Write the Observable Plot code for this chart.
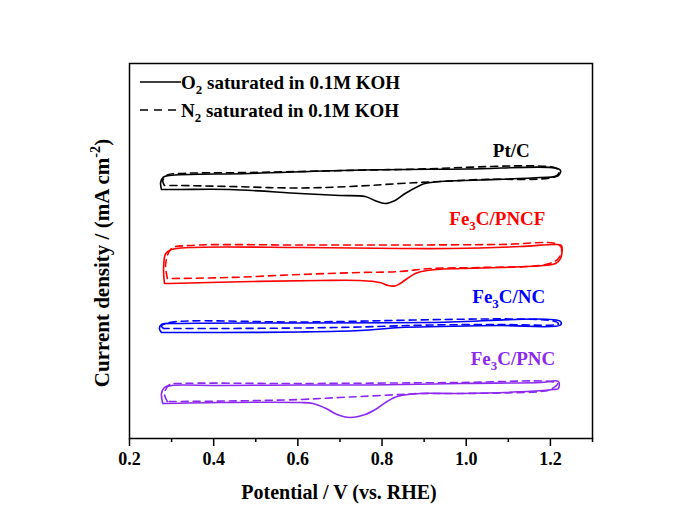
<!DOCTYPE html>
<html>
<head>
<meta charset="utf-8">
<script src="https://cdn.jsdelivr.net/npm/d3@7"></script>
<script src="https://cdn.jsdelivr.net/npm/@observablehq/plot@0.6"></script>
<style>
  html, body { margin: 0; padding: 0; background: white; }
  #wrap { position: relative; width: 673px; height: 512px; }
  #legend { position: absolute; left: 0; top: 0; pointer-events: none; }
</style>
</head>
<body>
<div id="wrap"></div>
<script>
// ---------- data (potential V vs. RHE, current density in offset mA cm^-2) ----------
const majorTicks = [0.2, 0.4, 0.6, 0.8, 1.0, 1.2];
const minorTicks = [0.3, 0.5, 0.7, 0.9, 1.1, 1.3];
const samples = ["Pt/C", "Fe_{3}C/PNCF", "Fe_{3}C/NC", "Fe_{3}C/PNC"];
const sampleColors = ["#000000", "#ff0000", "#0000ff", "#8c28f0"];
const labelPotential = [1.107, 1.074, 1.101, 1.111];
const labelCurrent = [11.52, 8.8, 5.68, 3.2];
const legendLabels = ["O_{2} saturated in 0.1M KOH", "N_{2} saturated in 0.1M KOH"];
const xTitle = "Potential / V (vs. RHE)";
const yTitle = "Current density / (mA cm^{-2})";

const ptcO2 = [[0.276,9.96],[0.274,10.24],[0.281,10.46],[0.295,10.52],[0.486,10.6],[0.748,10.74],[1.0,10.78],[1.212,10.82],[1.224,10.72],[1.219,10.52],[1.176,10.44],[1.033,10.34],[0.938,10.28],[0.902,10.2],[0.89,10.12],[0.855,9.8],[0.831,9.52],[0.807,9.4],[0.783,9.52],[0.76,9.68],[0.7,9.72],[0.605,9.8],[0.438,9.96],[0.319,9.96],[0.276,9.96]];
const ptcN2 = [[0.283,10.12],[0.279,10.32],[0.29,10.54],[0.319,10.6],[0.486,10.64],[0.843,10.76],[1.212,10.82],[1.221,10.68],[1.212,10.48],[1.033,10.36],[0.914,10.26],[0.843,10.2],[0.748,10.1],[0.605,10.02],[0.438,10.08],[0.319,10.12],[0.283,10.12]];

const pncfO2 = [[0.283,6.2],[0.281,6.8],[0.286,7.4],[0.3,7.56],[0.343,7.64],[0.605,7.64],[0.843,7.6],[0.962,7.6],[1.129,7.68],[1.212,7.76],[1.226,7.72],[1.224,7.2],[1.212,7.0],[1.183,6.92],[1.081,6.84],[0.986,6.8],[0.907,6.72],[0.879,6.6],[0.86,6.4],[0.843,6.2],[0.831,6.1],[0.815,6.12],[0.795,6.24],[0.748,6.32],[0.652,6.32],[0.493,6.28],[0.295,6.2],[0.283,6.2]];
const pncfN2 = [[0.29,6.4],[0.286,7.0],[0.3,7.6],[0.343,7.72],[0.605,7.74],[0.843,7.74],[1.081,7.76],[1.212,7.8],[1.226,7.64],[1.219,7.2],[1.188,6.96],[1.033,6.84],[0.914,6.8],[0.843,6.68],[0.748,6.64],[0.605,6.56],[0.438,6.44],[0.295,6.4],[0.29,6.4]];

const ncO2 = [[0.276,4.24],[0.271,4.4],[0.276,4.56],[0.319,4.6],[0.605,4.62],[0.914,4.64],[1.224,4.68],[1.224,4.54],[1.081,4.52],[0.938,4.48],[0.843,4.44],[0.748,4.32],[0.605,4.26],[0.414,4.24],[0.276,4.24]];
const ncN2 = [[0.281,4.4],[0.276,4.5],[0.295,4.64],[0.605,4.66],[1.212,4.68],[1.219,4.58],[1.081,4.56],[0.914,4.54],[0.748,4.46],[0.605,4.42],[0.414,4.4],[0.281,4.4]];

const pncO2 = [[0.279,1.4],[0.276,1.8],[0.283,2.04],[0.3,2.12],[0.414,2.12],[0.605,2.14],[0.771,2.14],[0.986,2.2],[1.176,2.24],[1.219,2.28],[1.219,2.0],[1.207,1.96],[1.183,1.92],[0.986,1.8],[0.89,1.8],[0.836,1.68],[0.812,1.48],[0.788,1.2],[0.76,0.96],[0.724,0.84],[0.693,0.96],[0.667,1.2],[0.636,1.4],[0.605,1.44],[0.414,1.44],[0.279,1.4]];
const pncN2 = [[0.29,1.48],[0.283,1.8],[0.295,2.16],[0.319,2.2],[0.605,2.2],[0.986,2.24],[1.2,2.28],[1.217,2.2],[1.2,1.96],[1.176,1.88],[0.986,1.8],[0.89,1.8],[0.843,1.76],[0.748,1.68],[0.7,1.64],[0.605,1.56],[0.438,1.5],[0.29,1.48]];

const o2Curves = [ptcO2, pncfO2, ncO2, pncO2];
const n2Curves = [ptcN2, pncfN2, ncN2, pncN2];

// ---------- chart ----------
const FONT = "'Liberation Serif', 'Times New Roman', serif";
const curveMarks = [];
samples.forEach((s, i) => {
  curveMarks.push(Plot.line(o2Curves[i], {x: d => d[0], y: d => d[1], stroke: sampleColors[i], strokeWidth: 1.6, curve: "catmull-rom"}));
  curveMarks.push(Plot.line(n2Curves[i], {x: d => d[0], y: d => d[1], stroke: sampleColors[i], strokeWidth: 1.6, strokeDasharray: "7,5", curve: "catmull-rom"}));
});
const labelRows = samples.map((s, i) => ({label: s, V: labelPotential[i], j: labelCurrent[i], color: sampleColors[i]}));

const chart = Plot.plot({
  width: 673, height: 512,
  marginLeft: 129, marginRight: 81, marginTop: 63, marginBottom: 74,
  x: {domain: [0.2, 1.3]},
  y: {domain: [0, 15], axis: null},
  style: {fontFamily: FONT, fontWeight: "bold", fontSize: "18px", background: "white", color: "black"},
  marks: [
    ...curveMarks,
    ...labelRows.map(r => Plot.text([r], {x: "V", y: "j", text: "label", fill: r.color, fontSize: 19, fontWeight: "bold"})),
    Plot.frame({stroke: "black", strokeWidth: 1.5}),
    Plot.axisX(majorTicks, {tickSize: 8, tickPadding: 6, tickFormat: d3.format(".1f"), fontSize: 18, strokeWidth: 1.5, label: null}),
    Plot.axisX(minorTicks, {tickSize: 4, tickFormat: () => "", strokeWidth: 1.5, label: null}),
    Plot.text([xTitle], {frameAnchor: "bottom", textAnchor: "middle", lineAnchor: "middle", dx: -22, dy: 54, fontSize: 20, fontWeight: "bold"}),
    Plot.text([yTitle], {frameAnchor: "left", textAnchor: "middle", lineAnchor: "middle", rotate: -90, dx: -27, dy: 12, fontSize: 21, fontWeight: "bold"})
  ]
});
const wrap = document.getElementById("wrap");
wrap.appendChild(chart);

// ---------- legend overlay ----------
const NS = "http://www.w3.org/2000/svg";
const leg = document.createElementNS(NS, "svg");
leg.setAttribute("id", "legend");
leg.setAttribute("width", 673);
leg.setAttribute("height", 512);
leg.setAttribute("font-family", FONT);
leg.setAttribute("font-weight", "bold");
leg.setAttribute("font-size", "19");
const rowsY = [82, 110];
const dashes = [null, "8,6"];
legendLabels.forEach((t, i) => {
  const ln = document.createElementNS(NS, "line");
  ln.setAttribute("x1", 140); ln.setAttribute("x2", i === 0 ? 181 : 178);
  ln.setAttribute("y1", rowsY[i]); ln.setAttribute("y2", rowsY[i]);
  ln.setAttribute("stroke", "black"); ln.setAttribute("stroke-width", 1.6);
  if (dashes[i]) ln.setAttribute("stroke-dasharray", dashes[i]);
  leg.appendChild(ln);
  const tx = document.createElementNS(NS, "text");
  tx.setAttribute("x", 181); tx.setAttribute("y", rowsY[i]);
  tx.setAttribute("dy", "0.35em");
  tx.textContent = t;
  leg.appendChild(tx);
});
wrap.appendChild(leg);

// ---------- sub/superscripts ----------
function richify(el) {
  const s = el.textContent;
  if (!/[_^]\{/.test(s)) return;
  const F = parseFloat(getComputedStyle(el).fontSize) || 18;
  el.textContent = "";
  const re = /_\{([^}]*)\}|\^\{([^}]*)\}/g;
  let last = 0, m, shift = 0;
  const add = (txt, kind) => {
    const t = document.createElementNS(NS, "tspan");
    let target = 0;
    if (kind === "sub") { target = 0.3 * F; t.setAttribute("font-size", (0.68 * F).toFixed(1)); }
    if (kind === "sup") { target = -0.42 * F; t.setAttribute("font-size", (0.68 * F).toFixed(1)); }
    const dy = target - shift;
    if (dy !== 0) t.setAttribute("dy", dy.toFixed(2));
    shift = target;
    t.textContent = txt;
    el.appendChild(t);
  };
  while ((m = re.exec(s))) {
    if (m.index > last) add(s.slice(last, m.index), null);
    if (m[1] != null) add(m[1], "sub"); else add(m[2], "sup");
    last = re.lastIndex;
  }
  if (last < s.length) add(s.slice(last), null);
}
wrap.querySelectorAll("text").forEach(richify);
</script>
</body>
</html>
